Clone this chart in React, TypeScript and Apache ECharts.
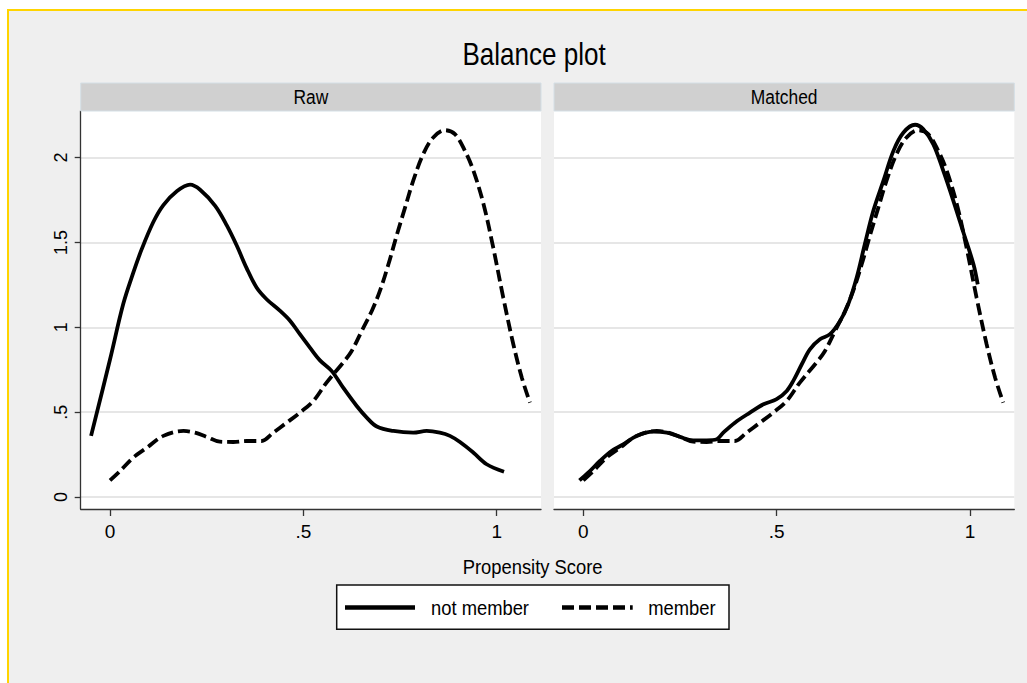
import React, { useEffect, useRef } from "react";
import * as echarts from "echarts";

const TITLE = "Balance plot";
const PANELS = ["Raw", "Matched"];
const X_TITLE = "Propensity Score";
const SERIES_NAMES = ["not member", "member"];

const X_TICKS = [0, 0.5, 1];
const X_TICK_LABELS = ["0", ".5", "1"];
const Y_TICKS = [0, 0.5, 1, 1.5, 2];
const Y_TICK_LABELS = ["0", ".5", "1", "1.5", "2"];

// Raw: not member (solid)
const rawNotMemberX = [-0.049, 0.0, 0.034, 0.06, 0.082, 0.112, 0.138, 0.172, 0.207, 0.233, 0.272, 0.302, 0.328, 0.353, 0.379, 0.405, 0.44, 0.466, 0.491, 0.517, 0.543, 0.573, 0.603, 0.638, 0.664, 0.69, 0.733, 0.784, 0.819, 0.853, 0.879, 0.905, 0.94, 0.974, 1.019];
const rawNotMemberY = [0.36, 0.81, 1.135, 1.32, 1.46, 1.62, 1.72, 1.8, 1.84, 1.81, 1.715, 1.6, 1.48, 1.35, 1.234, 1.165, 1.096, 1.037, 0.959, 0.88, 0.805, 0.743, 0.644, 0.536, 0.468, 0.415, 0.389, 0.379, 0.389, 0.379, 0.36, 0.324, 0.261, 0.193, 0.149];

// member (dashed) — same in both panels
const memberX = [0.0, 0.026, 0.06, 0.095, 0.138, 0.19, 0.22, 0.25, 0.284, 0.319, 0.353, 0.392, 0.422, 0.457, 0.491, 0.526, 0.56, 0.603, 0.625, 0.651, 0.677, 0.698, 0.72, 0.741, 0.763, 0.784, 0.81, 0.836, 0.866, 0.892, 0.918, 0.94, 0.966, 0.991, 1.017, 1.043, 1.065, 1.086];
const memberY = [0.098, 0.153, 0.232, 0.29, 0.36, 0.389, 0.379, 0.354, 0.326, 0.324, 0.33, 0.33, 0.379, 0.438, 0.497, 0.566, 0.674, 0.792, 0.86, 0.978, 1.096, 1.214, 1.371, 1.538, 1.705, 1.862, 2.02, 2.118, 2.161, 2.138, 2.039, 1.921, 1.725, 1.47, 1.175, 0.9, 0.703, 0.556];

// Matched: not member (solid)
const matchedNotMemberX = [-0.01, 0.017, 0.043, 0.073, 0.103, 0.138, 0.181, 0.216, 0.25, 0.284, 0.319, 0.345, 0.362, 0.392, 0.431, 0.466, 0.5, 0.526, 0.543, 0.565, 0.586, 0.612, 0.638, 0.664, 0.685, 0.707, 0.728, 0.75, 0.776, 0.802, 0.828, 0.858, 0.879, 0.905, 0.931, 0.957, 0.983, 1.009, 1.02];
const matchedNotMemberY = [0.098, 0.153, 0.212, 0.271, 0.31, 0.36, 0.385, 0.379, 0.354, 0.334, 0.334, 0.34, 0.379, 0.438, 0.497, 0.546, 0.576, 0.625, 0.684, 0.782, 0.87, 0.929, 0.959, 1.037, 1.135, 1.293, 1.489, 1.686, 1.862, 2.039, 2.147, 2.193, 2.167, 2.079, 1.921, 1.745, 1.558, 1.371, 1.253];

const REG = "'Liberation Sans', Arial, sans-serif";
const DASH = [12, 5];

const pairs = (xs: number[], ys: number[]) => xs.map((x, i) => [x, ys[i]]);

export default function App() {
  const ref = useRef<HTMLDivElement>(null);
  useEffect(() => {
    if (!ref.current) return;
    const chart = echarts.init(ref.current, null, { renderer: "svg" });

    const grids = [
      { left: 80.7, top: 111, width: 460.3, height: 398 },
      { left: 554, top: 111, width: 460.3, height: 398 },
    ];

    const xAxis = grids.map((_, i) => ({
      type: "value",
      gridIndex: i,
      min: -0.0758,
      max: 1.1146,
      axisLine: { show: true, onZero: false, lineStyle: { color: "#333", width: 1.3 } },
      axisTick: { show: true, customValues: X_TICKS, length: 7, lineStyle: { color: "#333", width: 1.3 } },
      axisLabel: {
        show: true,
        customValues: X_TICKS,
        margin: 13,
        color: "#000",
        fontFamily: REG,
        fontSize: 19,
        formatter: (v: number) => X_TICK_LABELS[X_TICKS.indexOf(Math.round(v * 100) / 100)] ?? "",
      },
      splitLine: { show: false },
    }));

    const yAxis = grids.map((_, i) => ({
      type: "value",
      gridIndex: i,
      min: -0.0707,
      max: 2.274,
      axisLine: { show: i === 0, onZero: false, lineStyle: { color: "#333", width: 1.3 } },
      axisTick: { show: i === 0, customValues: Y_TICKS, length: 6, lineStyle: { color: "#333", width: 1.3 } },
      axisLabel: {
        show: i === 0,
        customValues: Y_TICKS,
        rotate: 90,
        margin: 11,
        color: "#000",
        fontFamily: REG,
        fontSize: 18,
        formatter: (v: number) => Y_TICK_LABELS[Y_TICKS.indexOf(Math.round(v * 100) / 100)] ?? "",
      },
      splitLine: { show: true, lineStyle: { color: "#e6e6e6", width: 1.8 } },
    }));

    const solid = { color: "#000", width: 3.8, type: "solid" as const };
    const dashed = { color: "#000", width: 3.8, type: DASH };
    const mk = (name: string, idx: number, data: number[][], ls: any) => ({
      type: "line",
      name,
      xAxisIndex: idx,
      yAxisIndex: idx,
      data,
      symbol: "none",
      showSymbol: false,
      smooth: 0.35,
      color: "#000",
      lineStyle: ls,
      z: 3,
    });

    const narrowText = (text: string, x: number, y: number, size: number, sx: number, align = "center") => ({
      type: "text",
      x,
      y,
      scaleX: sx,
      z: 5,
      style: { text, align, verticalAlign: "middle", font: `${size}px ${REG}`, fill: "#000" },
    });

    const headerEls = grids.map((g, i) => [
      {
        type: "rect",
        shape: { x: g.left, y: 83, width: g.width, height: 28 },
        style: { fill: "#d0d0d0", stroke: "#d4dfe6", lineWidth: 1 },
        z: 1,
      },
      narrowText(PANELS[i], g.left + g.width / 2, 97.5, 20, 0.87),
    ]).flat();

    // legend drawn as graphic (box, samples, labels)
    const legendEls = [
      {
        type: "rect",
        shape: { x: 336.7, y: 585, width: 392.3, height: 44.3 },
        style: { fill: "#ffffff", stroke: "#111", lineWidth: 1.5 },
        z: 4,
      },
      {
        type: "line",
        shape: { x1: 345, y1: 607.5, x2: 415, y2: 607.5 },
        style: { stroke: "#000", lineWidth: 4.5 },
        z: 5,
      },
      narrowText(SERIES_NAMES[0], 431, 608, 21, 0.875, "left"),
      {
        type: "line",
        shape: { x1: 562, y1: 607.5, x2: 632.7, y2: 607.5 },
        style: { stroke: "#000", lineWidth: 4.5, lineDash: DASH },
        z: 5,
      },
      narrowText(SERIES_NAMES[1], 648.3, 608, 21, 0.875, "left"),
    ];

    chart.setOption({
      animation: false,
      backgroundColor: "#ffffff",
      grid: grids.map((g) => ({ ...g, show: true, backgroundColor: "#ffffff", borderWidth: 0, containLabel: false })),
      xAxis,
      yAxis,
      graphic: [
        {
          type: "rect",
          shape: { x: 8, y: 10, width: 1040, height: 700 },
          style: { fill: "#efefef", stroke: "#ffd400", lineWidth: 2 },
          z: -10,
          silent: true,
        },
        narrowText(TITLE, 534, 54, 31, 0.84),
        ...headerEls,
        narrowText(X_TITLE, 532.6, 567, 21, 0.875),
        ...legendEls,
      ],
      series: [
        mk(SERIES_NAMES[0], 0, pairs(rawNotMemberX, rawNotMemberY), solid),
        mk(SERIES_NAMES[1], 0, pairs(memberX, memberY), dashed),
        mk(SERIES_NAMES[0], 1, pairs(matchedNotMemberX, matchedNotMemberY), solid),
        mk(SERIES_NAMES[1], 1, pairs(memberX, memberY), dashed),
      ],
    });
    return () => chart.dispose();
  }, []);
  return <div ref={ref} style={{ position: "fixed", left: 0, top: 0, width: 1027, height: 683 }} />;
}
